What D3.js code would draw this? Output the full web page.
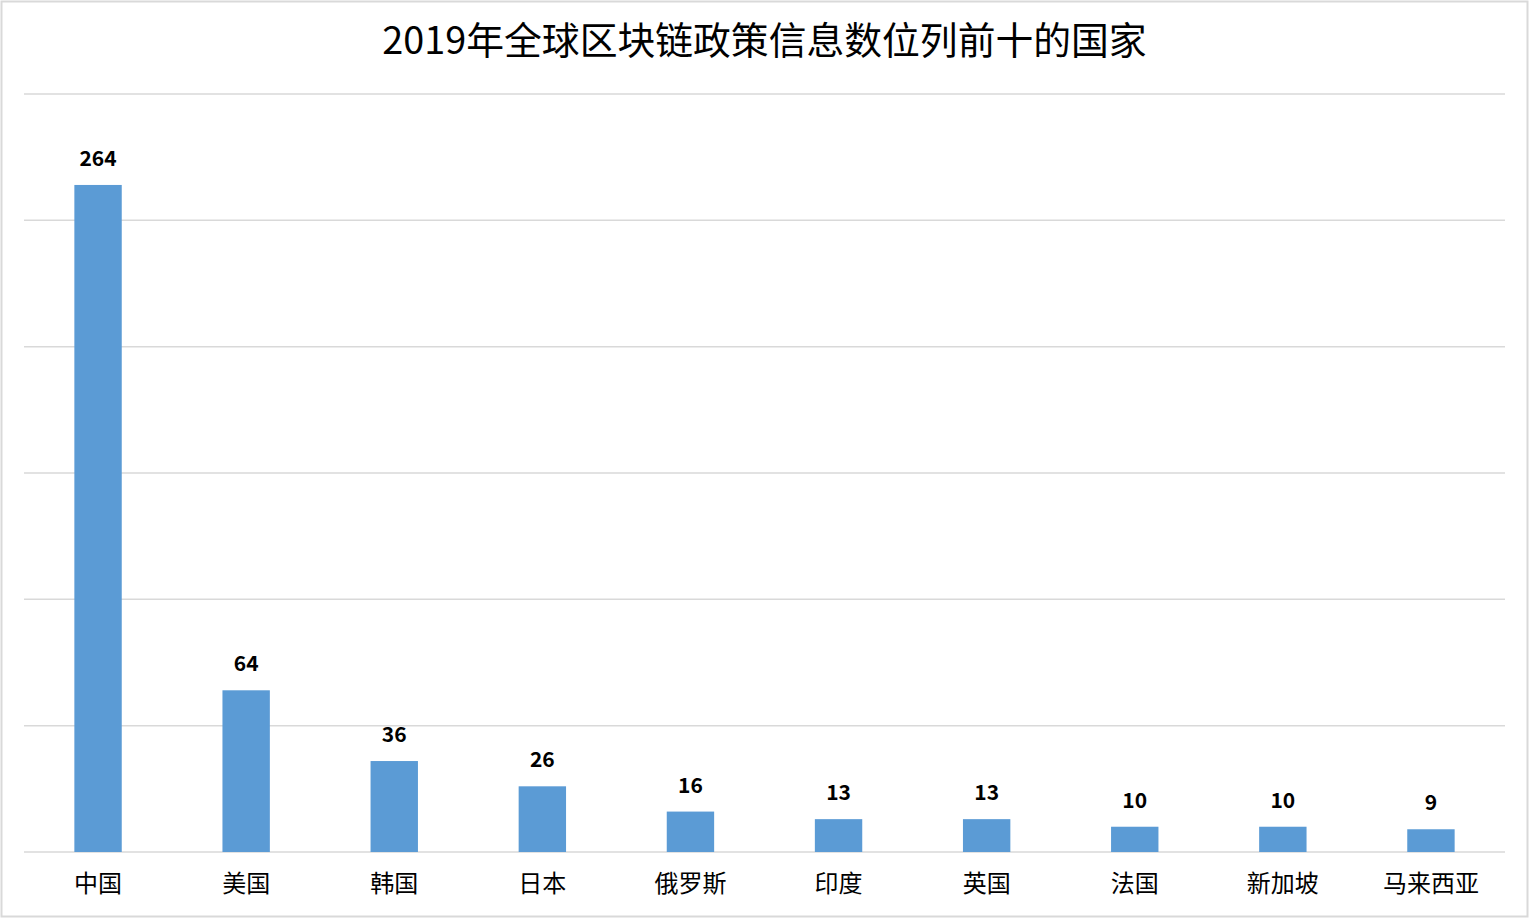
<!DOCTYPE html>
<html>
<head>
<meta charset="utf-8">
<script src="https://cdn.jsdelivr.net/npm/d3@7"></script>
<style>
  body { margin: 0; background: #fff; }
  svg { display: block; }
</style>
</head>
<body>
<svg id="chart" width="1529" height="919"></svg>
<script>
// 数据
const countries = ['中国', '美国', '韩国', '日本', '俄罗斯', '印度', '英国', '法国', '新加坡', '马来西亚'];
const counts = [264, 64, 36, 26, 16, 13, 13, 10, 10, 9];
const yTicks = [0, 50, 100, 150, 200, 250, 300];
const title = '2019年全球区块链政策信息数位列前十的国家';

const svg = d3.select('#chart');
const W = 1529, H = 919;
const margin = { top: 94, right: 24, bottom: 67, left: 24 };
const fontCJK = '"Noto Sans CJK SC", "Noto Sans", sans-serif';

// 外框
svg.append('rect')
  .attr('x', 1.5).attr('y', 1.5)
  .attr('width', W - 3).attr('height', H - 4)
  .attr('fill', '#fff')
  .attr('stroke', '#d9d9d9')
  .attr('stroke-width', 2);

const x = d3.scaleBand()
  .domain(countries)
  .range([margin.left, W - 24])
  .paddingInner(0.68)
  .paddingOuter(0.34);

const y = d3.scaleLinear()
  .domain([0, 300])
  .range([852, margin.top]);

// 网格线
svg.append('g')
  .selectAll('line')
  .data(yTicks)
  .enter().append('line')
  .attr('x1', 24).attr('x2', 1505)
  .attr('y1', d => y(d)).attr('y2', d => y(d))
  .attr('stroke', '#d9d9d9')
  .attr('stroke-width', 1.5);

// 柱子
svg.append('g')
  .selectAll('rect')
  .data(countries)
  .enter().append('rect')
  .attr('x', d => x(d))
  .attr('width', x.bandwidth())
  .attr('y', (d, i) => y(counts[i]))
  .attr('height', (d, i) => y(0) - y(counts[i]))
  .attr('fill', '#5b9bd5');

// 数值标签
svg.append('g')
  .selectAll('text')
  .data(countries)
  .enter().append('text')
  .attr('x', d => x(d) + x.bandwidth() / 2)
  .attr('y', (d, i) => y(counts[i]) - 19)
  .attr('text-anchor', 'middle')
  .attr('font-family', fontCJK)
  .attr('font-weight', 'bold')
  .attr('font-size', 21)
  .attr('fill', '#000')
  .text((d, i) => counts[i]);

// x 轴标签
const xAxis = d3.axisBottom(x).tickSize(0).tickPadding(23);
const gx = svg.append('g')
  .attr('transform', `translate(0,${y(0)})`)
  .call(xAxis);
gx.select('.domain').remove();
gx.selectAll('text')
  .attr('font-family', fontCJK)
  .attr('font-size', 24)
  .attr('fill', '#000');

// 标题
svg.append('text')
  .attr('x', W / 2)
  .attr('y', 54)
  .attr('text-anchor', 'middle')
  .attr('font-family', fontCJK)
  .attr('font-size', 37.8)
  .attr('fill', '#000')
  .text(title);
</script>
</body>
</html>
